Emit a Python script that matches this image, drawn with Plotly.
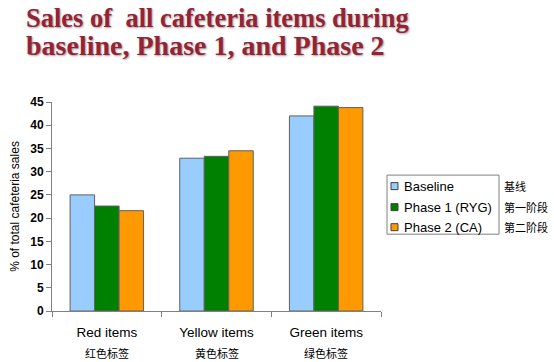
import plotly.graph_objects as go

categories = ["Red items", "Yellow items", "Green items"]
categories_cn = ["红色标签", "黄色标签", "绿色标签"]
series_names = ["Baseline", "Phase 1 (RYG)", "Phase 2 (CA)"]
series_cn = ["基线", "第一阶段", "第二阶段"]
baseline = [25.0, 32.9, 42.0]
phase1 = [22.6, 33.3, 44.1]
phase2 = [21.6, 34.5, 43.8]
colors = ["#99ccff", "#008000", "#ff9900"]
y_ticks = [0, 5, 10, 15, 20, 25, 30, 35, 40, 45]
title_lines = ["Sales of  all cafeteria items during", "baseline, Phase 1, and Phase 2"]

W, H = 554, 362
L, R, T, B = 52, 381, 102, 310.7


def px(xp):
    return (xp - L) / (R - L)


def py(yp):
    return (B - yp) / (B - T)


fig = go.Figure()
for name, vals, col in zip(series_names, [baseline, phase1, phase2], colors):
    fig.add_trace(go.Bar(
        x=categories, y=vals, name=name,
        marker=dict(color=col, line=dict(color="#606060", width=1)),
    ))

fig.update_layout(
    width=W, height=H,
    margin=dict(l=L, r=W - R, t=T, b=H - B, autoexpand=False),
    paper_bgcolor="white", plot_bgcolor="white",
    barmode="group", bargap=0.33, bargroupgap=0,
    font=dict(family="Liberation Sans, Arial, sans-serif", size=12, color="black"),
    showlegend=False,
)
fig.update_yaxes(
    range=[0, 45], tickvals=y_ticks, showgrid=False, zeroline=False,
    showline=True, linecolor="#808080", linewidth=1,
    ticks="outside", ticklen=5, tickcolor="#808080",
    tickfont=dict(size=12, weight="bold"),
    title=dict(text="% of total cafeteria sales", font=dict(size=12), standoff=8),
)
fig.update_xaxes(
    showline=True, linecolor="#808080", linewidth=1,
    ticks="outside", ticklen=5, tickcolor="#808080", tickson="boundaries",
    tickfont=dict(size=13.5), showgrid=False, ticklabelstandoff=9,
)

# title
title_sizes = [26.5, 28]
for i, line in enumerate(title_lines):
    fig.add_annotation(x=px(24), xref="paper", y=py(18 + i * 27.5), yref="paper",
                       text=line, showarrow=False, xanchor="left", yanchor="middle",
                       font=dict(family="Liberation Serif, serif", size=title_sizes[i],
                                 color="#962335", weight="bold",
                                 shadow="1px 1px 2px #a0a0a0"))

# chinese category labels
for cat, cn in zip(categories, categories_cn):
    fig.add_annotation(x=cat, xref="x", y=py(353), yref="paper", text=cn,
                       showarrow=False, yanchor="middle",
                       font=dict(size=11, family="Noto Sans CJK SC"))

# legend
fig.add_shape(type="rect", xref="paper", yref="paper",
              x0=px(387), x1=px(499), y0=py(175), y1=py(234),
              line=dict(color="#808080", width=1), fillcolor="white")
legend_y = [186, 207, 227]
for name, cn, col, yy in zip(series_names, series_cn, colors, legend_y):
    fig.add_shape(type="rect", xref="paper", yref="paper",
                  x0=px(391), x1=px(398), y0=py(yy - 3.5), y1=py(yy + 3.5),
                  line=dict(color="#404040", width=1), fillcolor=col)
    fig.add_annotation(x=px(402), xref="paper", y=py(yy), yref="paper",
                       text=name, showarrow=False, xanchor="left", yanchor="middle",
                       font=dict(size=13))
    fig.add_annotation(x=px(502), xref="paper", y=py(yy), yref="paper",
                       text=cn, showarrow=False, xanchor="left", yanchor="middle",
                       font=dict(size=11, family="Noto Sans CJK SC"))

fig.write_html("out.html", config={"displayModeBar": False},
               post_script="document.body.style.margin='0';")
